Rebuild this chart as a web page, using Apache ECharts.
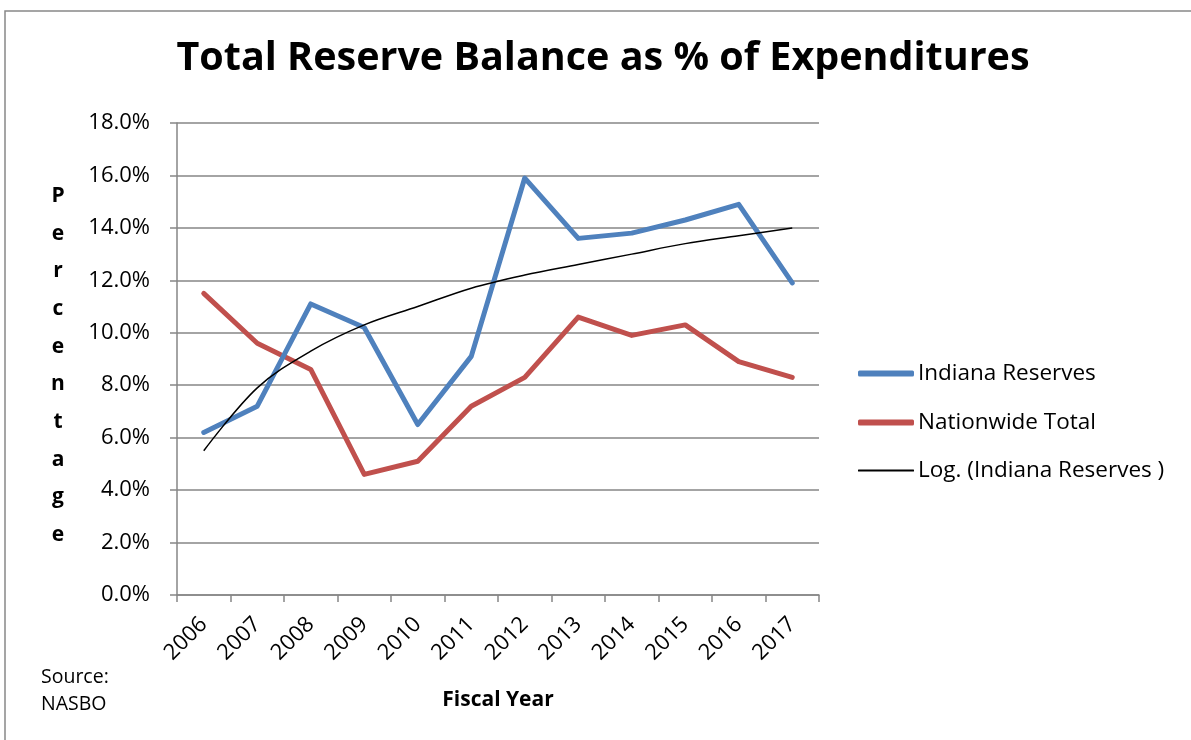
<!DOCTYPE html>
<html>
<head>
<meta charset="utf-8">
<script src="https://cdn.jsdelivr.net/npm/echarts@6/dist/echarts.min.js"></script>
<style>
  html, body { margin: 0; padding: 0; background: #fff; }
  #chart { width: 1191px; height: 740px; }
</style>
</head>
<body>
<div id="chart"></div>
<script>
// Fiscal years on the category axis
const years = ['2006', '2007', '2008', '2009', '2010', '2011', '2012', '2013', '2014', '2015', '2016', '2017'];
// Reserve balance as a percentage of expenditures
const indianaReserves = [6.2, 7.2, 11.1, 10.2, 6.5, 9.1, 15.9, 13.6, 13.8, 14.3, 14.9, 11.9];
const nationwideTotal = [11.5, 9.6, 8.6, 4.6, 5.1, 7.2, 8.3, 10.6, 9.9, 10.3, 8.9, 8.3];
// Logarithmic trend of the Indiana series
const indianaLogTrend = [5.5, 7.9, 9.3, 10.3, 11.0, 11.7, 12.2, 12.6, 13.0, 13.4, 13.7, 14.0];
// Y axis tick values
const yTicks = [0, 2, 4, 6, 8, 10, 12, 14, 16, 18];

const FONT = '"Open Sans", "Noto Sans", sans-serif';
const AXIS_GRAY = '#868686';

const chart = echarts.init(document.getElementById('chart'), null, { renderer: 'canvas' });

const legendCommon = {
  orient: 'vertical',
  left: 858,
  padding: 0,
  itemWidth: 56,
  itemGap: 0,
  textStyle: { fontFamily: FONT, fontSize: 22.5, color: '#000', padding: [0, 0, 0, -1] },
  icon: 'roundRect',
  selectedMode: false
};

chart.setOption({
  animation: false,
  backgroundColor: '#fff',
  textStyle: { fontFamily: FONT },
  graphic: [
    {
      type: 'rect',
      shape: { x: 5, y: 11, width: 1250, height: 800 },
      style: { fill: 'none', stroke: '#888', lineWidth: 1.5 },
      silent: true
    }
  ],
  title: [
    {
      text: 'Total Reserve Balance as % of Expenditures',
      left: 603,
      top: 39,
      padding: 0,
      textAlign: 'center',
      textStyle: { fontFamily: FONT, fontSize: 39.5, fontWeight: 'bold', color: '#000' }
    },
    {
      text: 'P\ne\nr\nc\ne\nn\nt\na\ng\ne',
      left: 58,
      top: 177,
      padding: 0,
      textAlign: 'center',
      textStyle: { fontFamily: FONT, fontSize: 21, fontWeight: 'bold', color: '#000', lineHeight: 37.7 }
    },
    {
      text: 'Source:\nNASBO',
      left: 41,
      top: 664,
      padding: 0,
      textStyle: { fontFamily: FONT, fontSize: 19.5, fontWeight: 'normal', color: '#000', lineHeight: 27 }
    }
  ],
  legend: [
    Object.assign({}, legendCommon, { top: 362, itemHeight: 6, data: ['Indiana Reserves'] }),
    Object.assign({}, legendCommon, { top: 411, itemHeight: 6, data: ['Nationwide Total'] }),
    Object.assign({}, legendCommon, { top: 459, itemHeight: 2, data: ['Log. (Indiana Reserves )'] })
  ],
  grid: { left: 177, right: 372, top: 123, bottom: 145, containLabel: false },
  xAxis: {
    type: 'category',
    data: years,
    boundaryGap: true,
    name: 'Fiscal Year',
    nameLocation: 'middle',
    nameGap: 95,
    nameTextStyle: { fontFamily: FONT, fontSize: 21, fontWeight: 'bold', color: '#000' },
    axisLine: { lineStyle: { color: AXIS_GRAY, width: 1.5 } },
    axisTick: { show: true, alignWithLabel: false, length: 7, inside: false, lineStyle: { color: AXIS_GRAY, width: 1.5 } },
    axisLabel: { rotate: 45, fontFamily: FONT, fontSize: 22, color: '#000', margin: 26, interval: 0 },
    splitLine: { show: false }
  },
  yAxis: {
    type: 'value',
    min: yTicks[0],
    max: yTicks[yTicks.length - 1],
    interval: yTicks[1] - yTicks[0],
    axisLine: { show: true, lineStyle: { color: AXIS_GRAY, width: 1.5 } },
    axisTick: { show: true, length: 7, lineStyle: { color: AXIS_GRAY, width: 1.5 } },
    axisLabel: {
      fontFamily: FONT, fontSize: 22, color: '#000', margin: 27,
      formatter: v => v.toFixed(1) + '%'
    },
    splitLine: { show: true, lineStyle: { color: AXIS_GRAY, width: 1.5 } }
  },
  series: [
    {
      name: 'Indiana Reserves',
      type: 'line',
      data: indianaReserves,
      symbol: 'none',
      itemStyle: { color: '#4F81BD' },
      lineStyle: { color: '#4F81BD', width: 5, cap: 'round', join: 'round' },
      z: 3
    },
    {
      name: 'Nationwide Total',
      type: 'line',
      data: nationwideTotal,
      symbol: 'none',
      itemStyle: { color: '#C0504D' },
      lineStyle: { color: '#C0504D', width: 5, cap: 'round', join: 'round' },
      z: 2
    },
    {
      name: 'Log. (Indiana Reserves )',
      type: 'line',
      data: indianaLogTrend,
      symbol: 'none',
      smooth: 0.35,
      itemStyle: { color: '#000' },
      lineStyle: { color: '#000', width: 1.5 },
      z: 4
    }
  ]
});
</script>
</body>
</html>
